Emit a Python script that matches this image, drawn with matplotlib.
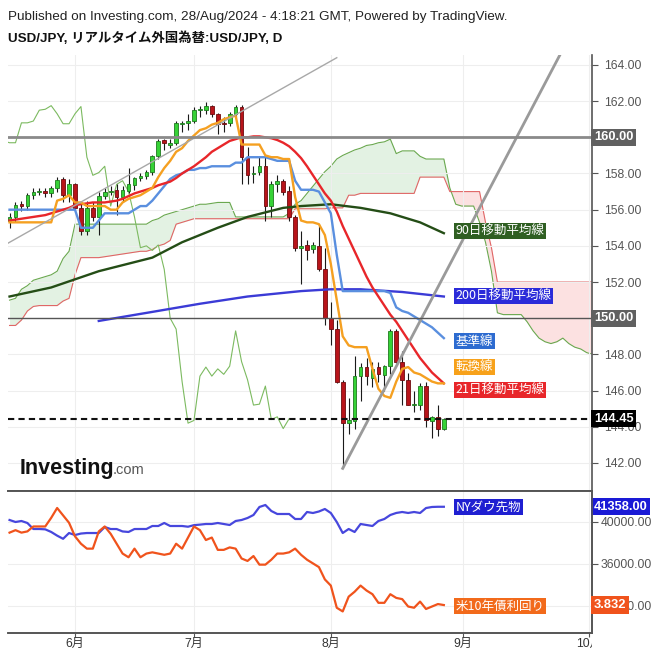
import numpy as np
import matplotlib.pyplot as plt
from matplotlib.transforms import blended_transform_factory, Bbox

plt.rcParams['font.family'] = ['Liberation Sans', 'Noto Sans CJK JP', 'DejaVu Sans']

# trading-day index, 0 = 3 Jun 2024 (17 May .. 28 Aug)
bars = np.arange(-11, 63)

opens = [155.35, 155.6, 156.3, 156.2, 156.8, 157.0, 157.05, 156.9, 157.2, 157.7, 156.8,
         157.4, 156.1, 154.8, 156.1, 155.6, 156.75, 157.0, 157.1, 156.7, 157.05, 157.35, 157.75, 157.85, 158.1, 158.95, 159.85, 159.6, 159.7, 160.75, 160.8,
         160.9, 161.5, 161.5, 161.75, 161.3, 160.8, 160.8, 161.3, 161.7, 158.9, 157.95, 158.1, 158.4, 156.2, 157.4, 157.6, 157.05, 155.6, 153.9, 154.05, 153.8, 154.0, 152.7,
         150.0, 149.4, 146.5, 144.2, 144.3, 146.8, 147.3, 146.7, 147.3, 146.85, 147.35, 149.3, 147.6, 146.6, 145.2, 145.2, 146.25, 144.3, 144.55, 143.9]
highs = [155.8, 156.4, 156.5, 156.9, 157.2, 157.2, 157.2, 157.3, 157.8, 157.8, 157.7,
         157.5, 156.4, 156.5, 156.4, 157.0, 157.2, 157.3, 157.4, 157.3, 158.3, 157.8, 158.0, 158.2, 159.0, 159.9, 159.9, 159.9, 160.9, 160.9, 161.3,
         161.7, 161.75, 161.95, 161.8, 161.35, 161.1, 161.4, 161.8, 161.8, 159.45, 158.4, 158.9, 158.9, 157.6, 157.9, 157.7, 157.3, 155.7, 154.8, 154.3, 154.2, 155.2, 153.9,
         150.9, 149.9, 146.6, 145.6, 147.9, 147.5, 147.8, 147.6, 147.6, 147.4, 149.4, 149.4, 148.2, 147.0, 146.0, 146.4, 146.5, 144.6, 145.2, 144.5]
lows = [155.0, 155.3, 155.9, 156.0, 156.6, 156.8, 156.7, 156.7, 157.0, 156.4, 156.4,
        156.0, 154.6, 154.6, 155.4, 154.6, 156.6, 156.8, 155.7, 156.4, 156.9, 157.1, 157.6, 157.7, 157.9, 158.8, 159.3, 159.4, 159.6, 160.3, 160.4,
        160.8, 161.1, 161.3, 161.1, 160.2, 160.3, 160.6, 161.1, 157.4, 157.4, 157.5, 157.9, 155.4, 155.6, 157.0, 156.8, 155.4, 153.7, 151.9, 153.2, 153.6, 152.6, 149.6,
        148.5, 146.4, 141.7, 143.6, 143.9, 145.4, 146.3, 146.2, 146.5, 146.0, 146.9, 147.5, 145.2, 145.2, 144.8, 144.95, 144.0, 143.4, 143.5, 143.8]
closes = [155.6, 156.25, 156.2, 156.8, 157.0, 157.0, 156.9, 157.2, 157.65, 156.8, 157.4,
          156.1, 154.8, 156.1, 155.6, 156.75, 157.0, 157.05, 156.7, 157.1, 157.4, 157.75, 157.85, 158.1, 158.95, 159.8, 159.7, 159.7, 160.8, 160.8, 160.9,
          161.5, 161.55, 161.75, 161.3, 160.75, 160.75, 161.3, 161.7, 158.9, 157.9, 158.05, 158.4, 156.2, 157.4, 157.6, 157.0, 155.6, 153.9, 154.0, 153.75, 154.05, 152.7, 150.0,
          149.4, 146.5, 144.2, 144.35, 146.8, 147.3, 146.8, 147.2, 146.9, 147.35, 149.3, 147.6, 146.6, 145.2, 145.25, 146.25, 144.4, 144.55, 143.9, 144.45]

tenkan = [155.3, 155.3, 155.3, 155.3, 155.3, 155.3, 155.3, 155.3, 156.5, 156.6, 156.8,
          156.4, 156.4, 156.2, 156.2, 156.2, 156.2, 156.0, 156.0, 156.4, 156.6, 156.7, 156.8, 157.0, 157.2, 157.8, 158.3, 158.7, 159.2, 159.4, 159.8,
          160.1, 160.4, 160.5, 160.7, 160.8, 161.0, 161.1, 161.2, 159.6, 159.6, 159.6, 159.6, 159.0, 158.9, 158.9, 158.8, 158.8, 156.7, 155.4, 155.3, 155.3, 155.2, 154.6,
          153.0, 151.0, 149.0, 148.5, 148.4, 148.4, 148.4, 147.2, 146.1, 145.7, 145.6, 146.5, 147.2, 147.3, 147.0, 146.9, 146.7, 146.5, 146.4, 146.4]
kijun = [156.0, 156.0, 156.0, 156.0, 156.0, 156.0, 156.0, 156.0, 156.0, 156.0, 156.0,
         156.0, 155.0, 155.0, 155.0, 155.4, 155.8, 155.8, 155.8, 155.8, 155.8, 156.0, 156.2, 156.2, 156.5, 156.9, 157.3, 157.7, 157.9, 158.0, 158.2,
         158.2, 158.3, 158.3, 158.4, 158.4, 158.4, 158.4, 158.6, 158.6, 158.9, 158.9, 158.9, 158.9, 158.8, 158.7, 158.7, 158.7, 157.6, 157.1, 157.1, 157.1, 157.0, 156.4,
         155.8, 153.5, 151.5, 151.5, 151.5, 151.5, 151.5, 151.5, 151.5, 151.5, 151.4, 150.6, 150.4, 150.3, 150.1, 149.9, 149.7, 149.5, 149.2, 148.9]
ma21 = [155.4, 155.45, 155.5, 155.55, 155.6, 155.65, 155.7, 155.8, 155.9, 156.0, 156.1,
        156.25, 156.3, 156.35, 156.4, 156.4, 156.4, 156.45, 156.5, 156.6, 156.75, 156.9, 157.0, 157.1, 157.2, 157.35, 157.45, 157.55, 157.75, 158.0, 158.2,
        158.4, 158.65, 158.9, 159.2, 159.4, 159.6, 159.8, 159.9, 160.0, 160.0, 160.05, 160.05, 160.0, 159.95, 159.85, 159.7, 159.5, 159.2, 158.85, 158.4, 157.9, 157.4, 156.9,
        156.5, 155.9, 155.1, 154.4, 153.7, 153.0, 152.3, 151.7, 151.2, 150.7, 150.2, 149.8, 149.3, 148.8, 148.3, 147.8, 147.4, 147.0, 146.7, 146.4]

ma90_bars = [-11, -4, 4, 13, 18, 24, 29, 35, 38, 43, 48, 53, 58, 62]
ma90 = [151.2, 151.7, 152.6, 153.35, 154.2, 155.0, 155.6, 156.1, 156.2, 156.3, 156.1, 155.8, 155.3, 154.7]
ma200_bars = [4, 13, 21, 29, 38, 43, 48, 55, 62]
ma200 = [149.85, 150.35, 150.8, 151.2, 151.5, 151.6, 151.6, 151.45, 151.2]

# ichimoku cloud, shifted 26 bars ahead
cloud_bars = np.arange(-11, 89)
senkou_a = [151.0, 151.1, 151.6, 151.8, 152.1, 152.2, 152.3, 152.4, 152.6, 153.3, 153.7,
            155.2, 155.2, 155.2, 155.2, 155.2, 155.2, 155.2, 155.2, 155.2, 155.2, 155.2, 155.2, 155.2, 155.4, 155.5, 155.7, 155.8, 155.9, 156.0, 156.1,
            156.2, 156.3, 156.3, 156.35, 156.4, 156.4, 156.4, 155.6, 155.6, 155.6, 155.6, 155.6, 155.6, 155.6, 155.6, 155.6, 155.8, 156.3, 156.5, 156.9, 157.3, 157.7, 158.1,
            158.4, 158.8, 159.0, 159.15, 159.3, 159.4, 159.55, 159.6, 159.7, 159.75, 159.9, 159.1, 159.25, 159.25, 159.25, 158.95, 158.8, 158.8, 158.8, 158.8,
            157.2, 156.3, 156.2, 156.2, 156.2, 155.3, 154.2, 152.6, 150.3, 150.2, 150.2, 150.2, 150.2, 149.8, 149.3, 148.9, 148.7, 148.6, 148.7, 148.9,
            148.6, 148.4, 148.3, 148.1, 148.0, 147.9]
senkou_b = [149.6, 149.6, 149.9, 150.4, 150.65, 150.7, 150.7, 150.7, 150.7, 150.95, 151.1,
            152.4, 153.35, 153.35, 153.35, 153.35, 153.4, 153.45, 153.5, 153.55, 153.6, 153.65, 153.7, 153.7, 153.8, 154.0, 154.1, 154.3, 155.2, 155.3, 155.4,
            155.5, 155.5, 155.5, 155.5, 155.5, 155.5, 155.5, 155.5, 155.5, 155.5, 155.5, 155.5, 155.5, 155.5, 155.5, 155.5, 155.5, 156.05, 156.05, 156.05, 156.05, 156.05, 156.05,
            156.1, 156.1, 156.1, 156.8, 156.8, 156.9, 156.9, 156.9, 156.9, 156.9, 156.9, 156.9, 156.9, 156.9, 156.9, 157.8, 157.8, 157.8, 157.8, 157.8,
            157.0, 157.0, 157.0, 157.0, 157.0, 157.0, 155.3, 153.9, 152.0, 152.0, 152.0, 152.0, 152.0, 152.0, 152.0, 152.0, 152.0, 152.0, 152.0, 152.0,
            152.0, 152.0, 152.0, 152.0, 152.0, 152.0]

# hand-drawn trend lines (bar, price)
trend_thin = ([-12.6, 44.0], [153.9, 164.4])
trend_thick = ([45, 81.5], [141.7, 164.55])

# lower panel
dow = [40190, 40000, 40095, 39905, 39333, 39333, 39300, 39050, 38700, 38400, 38950,
       38760, 38900, 38950, 38950, 38950, 39520, 39330, 39330, 39100, 39050, 39330, 39333, 39333, 39619, 39619, 39905, 39619, 39619, 39619, 39550,
       39700, 39750, 39810, 39810, 39905, 39810, 39714, 40095, 40190, 40381, 40667, 41429, 41619, 41048, 40762, 40762, 40762, 40286, 40286, 40952, 40857, 41000, 41238,
       40857, 40000, 38952, 39333, 39048, 39810, 39714, 39619, 40095, 40286, 40667, 40860, 40952, 40860, 40952, 40857, 41330, 41430, 41450, 41450]
yields = [4.42, 4.44, 4.42, 4.43, 4.47, 4.47, 4.47, 4.54, 4.62, 4.56, 4.50,
          4.39, 4.33, 4.29, 4.29, 4.43, 4.47, 4.41, 4.33, 4.25, 4.22, 4.29, 4.22, 4.25, 4.26, 4.25, 4.24, 4.25, 4.33, 4.29, 4.38,
          4.47, 4.44, 4.36, 4.38, 4.28, 4.28, 4.30, 4.29, 4.21, 4.19, 4.23, 4.16, 4.16, 4.20, 4.25, 4.25, 4.26, 4.29, 4.24, 4.20, 4.17, 4.14, 4.04,
          3.99, 3.81, 3.78, 3.90, 3.94, 3.99, 3.95, 3.92, 3.85, 3.85, 3.92, 3.89, 3.88, 3.82, 3.81, 3.86, 3.80, 3.82, 3.84, 3.832]

month_pos = [0, 20, 43, 65.2, 86.4]
month_labels = ['6月', '7月', '8月', '9月', '10月']
price_ticks = [142, 144, 146, 148, 152, 154, 156, 158, 162, 164]

W, H = 656, 656
fig = plt.figure(figsize=(W / 100, H / 100), dpi=100)


def frac(x0, y0, x1, y1):
    return [x0 / W, 1 - y1 / H, (x1 - x0) / W, (y1 - y0) / H]


ax = fig.add_axes(frac(8, 55, 592, 491))
ax2 = fig.add_axes(frac(8, 491, 592, 633))
ax3 = ax2.twinx()

o, h, l, c = map(np.array, (opens, highs, lows, closes))
up = c >= o

# cloud
ax.fill_between(cloud_bars, senkou_a, senkou_b, where=np.array(senkou_a) >= np.array(senkou_b),
                interpolate=True, color='#dcefdc', alpha=0.8, lw=0, zorder=1)
ax.fill_between(cloud_bars, senkou_a, senkou_b, where=np.array(senkou_a) < np.array(senkou_b),
                interpolate=True, color='#fcdede', alpha=0.9, lw=0, zorder=1)
ax.plot(cloud_bars, senkou_a, color='#6aa84f', lw=0.8, zorder=1.5)
ax.plot(cloud_bars, senkou_b, color='#e06666', lw=0.8, zorder=1.5)
# lagging span
ax.plot(bars - 26, closes, color='#7cba60', lw=0.8, zorder=1.6)

# candles
ax.vlines(bars, l, h, color='#1a1a1a', lw=0.8, zorder=3)
ax.bar(bars, np.maximum(np.abs(c - o), 0.03), bottom=np.minimum(o, c), width=0.62,
       color=np.where(up, '#36d236', '#b8141a'), edgecolor=np.where(up, '#1f7a1f', '#6e0b0e'),
       lw=0.6, zorder=4)

ax.plot(ma90_bars, ma90, color='#244d16', lw=1.7, zorder=5)
ax.plot(ma200_bars, ma200, color='#3b3bd6', lw=1.7, zorder=5)
ax.plot(bars, kijun, color='#5a8fdf', lw=1.7, zorder=5)
ax.plot(bars, ma21, color='#e8262a', lw=1.7, zorder=5)
ax.plot(bars, tenkan, color='#f5a021', lw=1.7, zorder=5)

ax.plot(*trend_thin, color='#a8a8a8', lw=1.0, zorder=6)
ax.plot(*trend_thick, color='#9a9a9a', lw=2.0, zorder=6)

ax.axhline(160, color='#8a8a8a', lw=2, zorder=6)
ax.axhline(150, color='#555555', lw=1, zorder=6)
ax.axhline(closes[-1], color='#111111', lw=1.5, ls=(0, (3, 2)), zorder=6)

ax.set_xlim(-11.26, 86.9)
ax.set_ylim(140.45, 164.55)
ax.set_yticks(price_ticks)
ax.set_yticklabels([f'{t:.2f}' for t in price_ticks])
ax.yaxis.tick_right()
ax.set_xticks(month_pos)
ax.set_xticklabels([])
ax.tick_params(axis='x', length=0)
ax.tick_params(axis='y', direction='out', length=4, pad=5, labelsize=8.7,
               colors='#555555', width=0.8)
ax.grid(True, color='#eeeeee', lw=0.8, zorder=0)
for s in ('top', 'left'):
    ax.spines[s].set_visible(False)
for s in ('right', 'bottom'):
    ax.spines[s].set_color('#555555')
    ax.spines[s].set_linewidth(1.2)

yb = blended_transform_factory(ax.transAxes, ax.transData)
box_kw = dict(color='white', fontsize=9.3, fontweight='bold', va='center', ha='left', zorder=10)
ax.text(1.003, 160, '160.00', transform=yb, clip_on=False,
        bbox=dict(boxstyle='square,pad=0.2', fc='#606060', ec='none'), **box_kw)
ax.text(1.003, 150, '150.00', transform=yb, clip_on=False,
        bbox=dict(boxstyle='square,pad=0.2', fc='#606060', ec='none'), **box_kw)
ax.text(1.003, closes[-1], f'{closes[-1]:.2f}', transform=yb, clip_on=False,
        bbox=dict(boxstyle='square,pad=0.2', fc='#000000', ec='none'), **box_kw)

lab_kw = dict(color='white', fontsize=9, va='center', ha='left', zorder=10,
              family=['Noto Sans CJK JP', 'DejaVu Sans'])
for txt, yv, col in [('90日移動平均線', 154.82, '#2f5f22'),
                     ('200日移動平均線', 151.23, '#2b2bd9'),
                     ('基準線', 148.74, '#2d6bd0'),
                     ('転換線', 147.31, '#f7a11a'),
                     ('21日移動平均線', 146.03, '#e8262a')]:
    ax.text(0.767, yv, txt, transform=yb,
            bbox=dict(boxstyle='square,pad=0.12', fc=col, ec='none'), **lab_kw)

# lower panel
ax2.plot(bars, dow, color='#4747dd', lw=1.6, zorder=3)
ax3.plot(bars, yields, color='#f0531c', lw=1.6, zorder=3)
ax2.set_xlim(-11.26, 86.9)
ax2.set_ylim(29428, 42952)
ax3.set_ylim(3.605, 4.758)
ax2.set_yticks([32000, 36000, 40000])
ax2.set_yticklabels(['32000.00', '36000.00', '40000.00'])
ax2.yaxis.tick_right()
ax2.tick_params(axis='y', direction='out', length=4, pad=2, labelsize=8.7,
                colors='#555555', width=0.8)
ax3.set_yticks([])
ax2.set_xticks(month_pos)
ax2.set_xticklabels([])
ax2.tick_params(axis='x', direction='out', length=3, colors='#555555')
ax2.grid(True, color='#eeeeee', lw=0.8, zorder=0)
for a in (ax2, ax3):
    a.spines['left'].set_visible(False)
    for s in ('right', 'bottom', 'top'):
        a.spines[s].set_color('#555555')
        a.spines[s].set_linewidth(1.2)

xb = blended_transform_factory(ax2.transData, ax2.transAxes)
for xp, lab in zip(month_pos, month_labels):
    t = ax2.text(xp, -0.075, lab, transform=xb, ha='center', va='center',
                 fontsize=8.7, color='#333333', clip_on=True)
    t.set_clip_box(Bbox.from_extents(0, 0, 592, H))

yb2 = blended_transform_factory(ax2.transAxes, ax2.transData)
yb3 = blended_transform_factory(ax3.transAxes, ax3.transData)
ax2.text(1.003, dow[-1], '41358.00', transform=yb2, clip_on=False,
         bbox=dict(boxstyle='square,pad=0.2', fc='#1a1ad6', ec='none'), **box_kw)
ax3.text(1.003, yields[-1], f'{yields[-1]:.3f}', transform=yb3, clip_on=False,
         bbox=dict(boxstyle='square,pad=0.2', fc='#f0531c', ec='none'), **box_kw)
ax2.text(0.767, 41450, 'NYダウ先物', transform=yb2,
         bbox=dict(boxstyle='square,pad=0.12', fc='#1f1fd1', ec='none'), **lab_kw)
ax3.text(0.767, 3.824, '米10年債利回り', transform=yb3,
         bbox=dict(boxstyle='square,pad=0.12', fc='#f26a1b', ec='none'), **lab_kw)

# header and logo
fig.text(8 / W, 1 - 17 / H, 'Published on Investing.com, 28/Aug/2024 - 4:18:21 GMT, Powered by TradingView.',
         fontsize=9.7, color='#222222', va='center')
fig.text(8 / W, 1 - 38 / H, 'USD/JPY, リアルタイム外国為替:USD/JPY, D',
         fontsize=9.6, fontweight='bold', color='#111111', va='center')
fig.text(20 / W, 1 - 474 / H, 'Investing', fontsize=15.5, fontweight='bold', color='#111111', va='baseline')
fig.text(113 / W, 1 - 474 / H, '.com', fontsize=10.5, color='#555555', va='baseline')

fig.savefig('out.png', dpi=100)
